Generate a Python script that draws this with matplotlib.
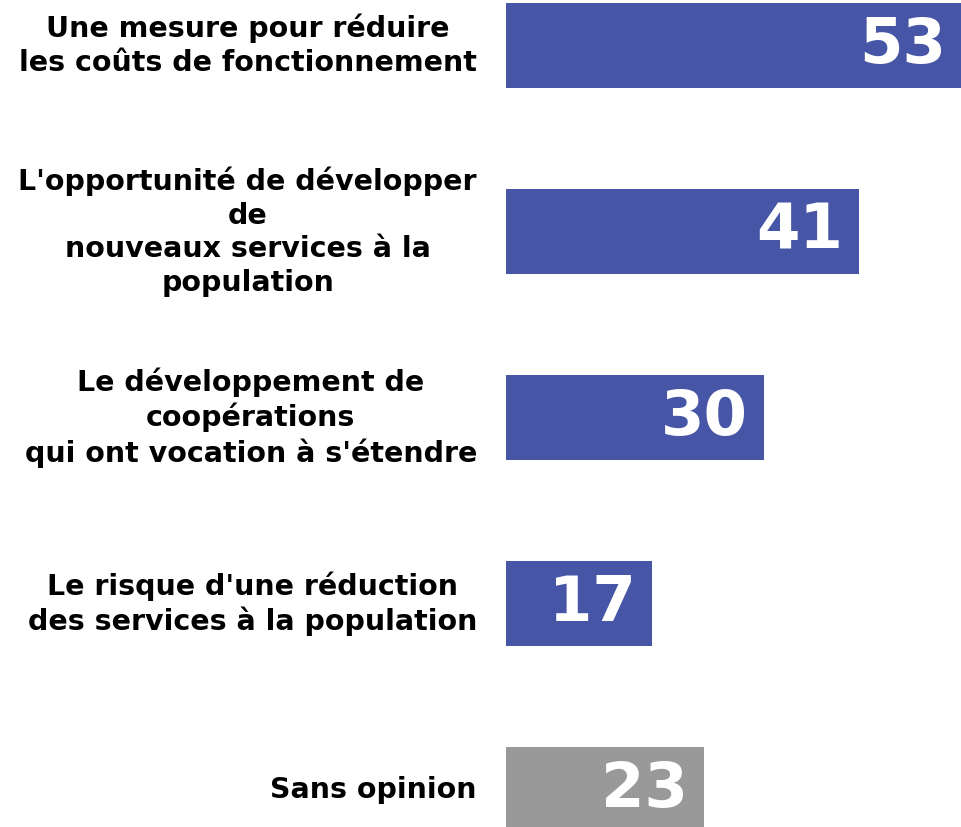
import matplotlib
matplotlib.use("Agg")
import matplotlib.pyplot as plt
from matplotlib.transforms import offset_copy

categories = [
    "Une mesure pour réduire\nles coûts de fonctionnement",
    "L'opportunité de développer\nde\nnouveaux services à la\npopulation",
    "Le développement de\ncoopérations\nqui ont vocation à s'étendre",
    "Le risque d'une réduction\ndes services à la population",
    "Sans opinion",
]
values = [53, 41, 30, 17, 23]
colors = ["#4755a6", "#4755a6", "#4755a6", "#4755a6", "#999999"]

W, H = 962, 827
fig = plt.figure(figsize=(W / 100, H / 100), dpi=100)
ax = fig.add_axes([506 / W, 0, 1 - 506 / W, 1])

ypos = list(range(len(values)))
ax.barh(ypos, values, height=0.457, color=colors)
ax.set_xlim(0, 53)
ax.set_ylim(4.20, -0.245)
ax.axis("off")

for y, v, lab in zip(ypos, values, categories):
    tr = offset_copy(ax.transData, fig=fig, x=-16, y=0, units="dots")
    ax.text(v, y, str(v), transform=tr, ha="right", va="center",
            color="white", fontsize=45, fontweight="heavy", family="DejaVu Sans")
    tr2 = offset_copy(ax.transData, fig=fig, x=-29, y=0, units="dots")
    ax.text(0, y, lab, transform=tr2, ha="right", va="center", multialignment="center",
            color="black", fontsize=20.5, fontweight="bold", family="DejaVu Sans",
            linespacing=1.26, clip_on=False)

fig.savefig("out.png", dpi=100)
